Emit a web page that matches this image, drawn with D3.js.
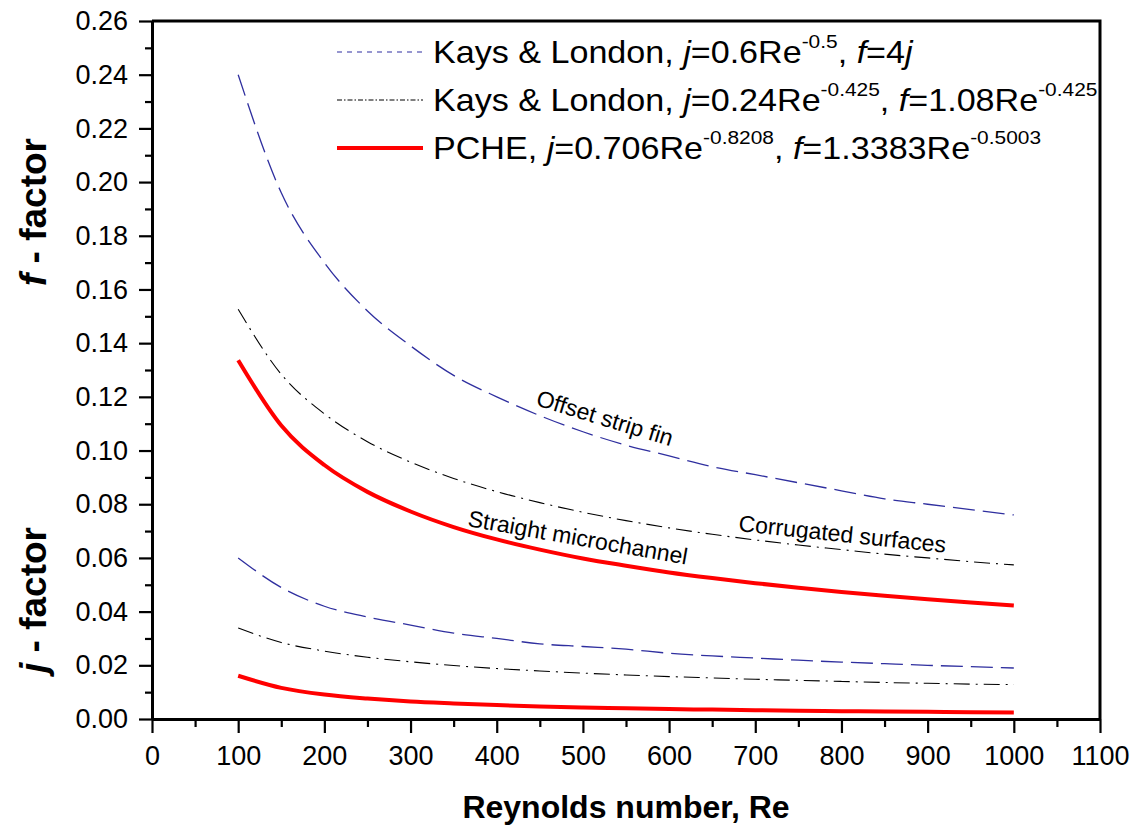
<!DOCTYPE html>
<html>
<head>
<meta charset="utf-8">
<script src="https://cdn.jsdelivr.net/npm/d3@7"></script>
<style>
  body { margin: 0; background: #fff; }
  svg text { font-family: Arial, "Liberation Sans", sans-serif; }
</style>
</head>
<body>
<svg id="chart" width="1138" height="833"></svg>
<script>
// Reynolds number samples
const reynolds = [100, 150, 200, 250, 300, 350, 400, 450, 500, 550, 600, 650, 700, 750, 800, 850, 900, 950, 1000];

// Kays & London, offset strip fin (blue dashed)
const fOffset = [0.240, 0.196, 0.170, 0.152, 0.139, 0.128, 0.120, 0.113, 0.107, 0.102, 0.098, 0.094, 0.091, 0.088, 0.085, 0.082, 0.080, 0.078, 0.076];
const jOffset = [0.060, 0.049, 0.042, 0.038, 0.035, 0.032, 0.030, 0.028, 0.027, 0.026, 0.0245, 0.0235, 0.0227, 0.0219, 0.0212, 0.0206, 0.0200, 0.0195, 0.0190];

// Kays & London, corrugated surfaces (black dash-dot)
const fCorrugated = [0.1526, 0.1284, 0.1137, 0.1033, 0.0957, 0.0896, 0.0847, 0.0806, 0.0770, 0.0739, 0.0712, 0.0688, 0.0667, 0.0648, 0.0631, 0.0614, 0.0600, 0.0586, 0.0574];
const jCorrugated = [0.0339, 0.0285, 0.0253, 0.0230, 0.0213, 0.0199, 0.0188, 0.0179, 0.0171, 0.0164, 0.0158, 0.0153, 0.0148, 0.0144, 0.0140, 0.0136, 0.0133, 0.0130, 0.0128];

// PCHE, straight microchannel (red solid)
const fPCHE = [0.1336, 0.1093, 0.0946, 0.0846, 0.0773, 0.0715, 0.0669, 0.0631, 0.0598, 0.0571, 0.0546, 0.0525, 0.0506, 0.0489, 0.0473, 0.0459, 0.0446, 0.0434, 0.0423];
const jPCHE = [0.0161, 0.0116, 0.0091, 0.0076, 0.0065, 0.0058, 0.0052, 0.0047, 0.0043, 0.0040, 0.0037, 0.0035, 0.0033, 0.0031, 0.0029, 0.0028, 0.0027, 0.0025, 0.0024];

const xTicks = [0, 100, 200, 300, 400, 500, 600, 700, 800, 900, 1000, 1100];
const yTicks = [0, 0.02, 0.04, 0.06, 0.08, 0.10, 0.12, 0.14, 0.16, 0.18, 0.20, 0.22, 0.24, 0.26];

// legend rows: [text, italic?, superscript?]
const legendRows = [
  [["Kays & London, "], ["j", "i"], ["=0.6Re"], ["-0.5", "s"], [", "], ["f", "i"], ["=4"], ["j", "i"]],
  [["Kays & London, "], ["j", "i"], ["=0.24Re"], ["-0.425", "s"], [", "], ["f", "i"], ["=1.08Re"], ["-0.425", "s"]],
  [["PCHE, "], ["j", "i"], ["=0.706Re"], ["-0.8208", "s"], [", "], ["f", "i"], ["=1.3383Re"], ["-0.5003", "s"]]
];

const annotations = [
  { text: "Offset strip fin", x: 535, y: 405, angle: 17 },
  { text: "Corrugated surfaces", x: 738, y: 531, angle: 6 },
  { text: "Straight microchannel", x: 467, y: 526, angle: 10 }
];

const svg = d3.select("#chart");
const mLeft = 152, mRight = 1100, mTop = 21, mBottom = 719;

const x = d3.scaleLinear().domain([0, 1100]).range([mLeft, mRight]);
const y = d3.scaleLinear().domain([0, 0.26]).range([mBottom, mTop]);

const styles = [
  { color: "#2f2f9f", width: 1.3, dash: "22,8", legendDash: "5,5" },
  { color: "#000", width: 1.1, dash: "16,6,2,6", legendDash: "5,2,1.5,2" },
  { color: "#ff0000", width: 4, dash: null, legendDash: null }
];
const series = [
  [fOffset, jOffset, styles[0]],
  [fCorrugated, jCorrugated, styles[1]],
  [fPCHE, jPCHE, styles[2]]
];

const line = d3.line()
  .x(d => x(d[0]))
  .y(d => y(d[1]))
  .curve(d3.curveMonotoneX);

series.forEach(function(s) {
  [s[0], s[1]].forEach(function(vals) {
    svg.append("path")
      .datum(reynolds.map((r, i) => [r, vals[i]]))
      .attr("fill", "none")
      .attr("stroke", s[2].color)
      .attr("stroke-width", s[2].width)
      .attr("stroke-dasharray", s[2].dash)
      .attr("d", line);
  });
});

// axes
const xAxis = svg.append("g").attr("transform", "translate(0," + mBottom + ")")
  .call(d3.axisBottom(x).tickValues(xTicks).tickFormat(d3.format("d")).tickSize(14).tickSizeOuter(0).tickPadding(13));
const xMinor = svg.append("g").attr("transform", "translate(0," + mBottom + ")")
  .call(d3.axisBottom(x).tickValues(d3.range(50, 1100, 100)).tickFormat("").tickSize(8).tickSizeOuter(0));
const yAxis = svg.append("g").attr("transform", "translate(" + mLeft + ",0)")
  .call(d3.axisLeft(y).tickValues(yTicks).tickFormat(d3.format(".2f")).tickSize(13).tickSizeOuter(0).tickPadding(11));
const yMinor = svg.append("g").attr("transform", "translate(" + mLeft + ",0)")
  .call(d3.axisLeft(y).tickValues(d3.range(0.01, 0.26, 0.02)).tickFormat("").tickSize(7).tickSizeOuter(0));

[xAxis, xMinor, yAxis, yMinor].forEach(function(g) {
  g.select(".domain").attr("stroke", "#000").attr("stroke-width", 3);
  g.selectAll(".tick line").attr("stroke", "#000").attr("stroke-width", 2.2);
  g.selectAll(".tick text").attr("fill", "#000")
    .style("font-size", "27px").style("font-family", "Arial, 'Liberation Sans', sans-serif");
});

// top and right frame
svg.append("path")
  .attr("d", "M" + mLeft + "," + mTop + "H" + mRight + "V" + mBottom)
  .attr("fill", "none").attr("stroke", "#000").attr("stroke-width", 3);

// legend
const legend = svg.append("g");
legendRows.forEach(function(row, i) {
  const ly = 52 + i * 48;
  legend.append("line")
    .attr("x1", 337).attr("x2", 423).attr("y1", ly).attr("y2", ly)
    .attr("stroke", styles[i].color)
    .attr("stroke-width", i === 2 ? 4 : 1.2)
    .attr("stroke-dasharray", styles[i].legendDash);
  const t = legend.append("text")
    .attr("transform", "translate(433," + (ly + 11) + ") scale(1.1,1)")
    .style("font-size", "31px");
  let raised = false;
  row.forEach(function(part) {
    const ts = t.append("tspan").text(part[0]);
    if (part[1] === "i") ts.style("font-style", "italic");
    if (part[1] === "s") {
      ts.style("font-size", "19px").attr("dy", -15);
      raised = true;
    } else if (raised) {
      ts.attr("dy", 15);
      raised = false;
    }
  });
});

// curve annotations
annotations.forEach(function(a) {
  svg.append("text")
    .attr("transform", "translate(" + a.x + "," + a.y + ") rotate(" + a.angle + ")")
    .style("font-size", "23px")
    .text(a.text);
});

// axis titles
svg.append("text")
  .attr("x", x(550)).attr("y", 818)
  .attr("text-anchor", "middle")
  .style("font-size", "32px").style("font-weight", "bold")
  .text("Reynolds number, Re");

const fTitle = svg.append("text")
  .attr("transform", "translate(46,212) rotate(-90)")
  .attr("text-anchor", "middle")
  .style("font-size", "37px").style("font-weight", "bold");
fTitle.append("tspan").style("font-style", "italic").text("f");
fTitle.append("tspan").text(" - factor");

const jTitle = svg.append("text")
  .attr("transform", "translate(46,600) rotate(-90)")
  .attr("text-anchor", "middle")
  .style("font-size", "37px").style("font-weight", "bold");
jTitle.append("tspan").style("font-style", "italic").text("j");
jTitle.append("tspan").text(" - factor");
</script>
</body>
</html>
